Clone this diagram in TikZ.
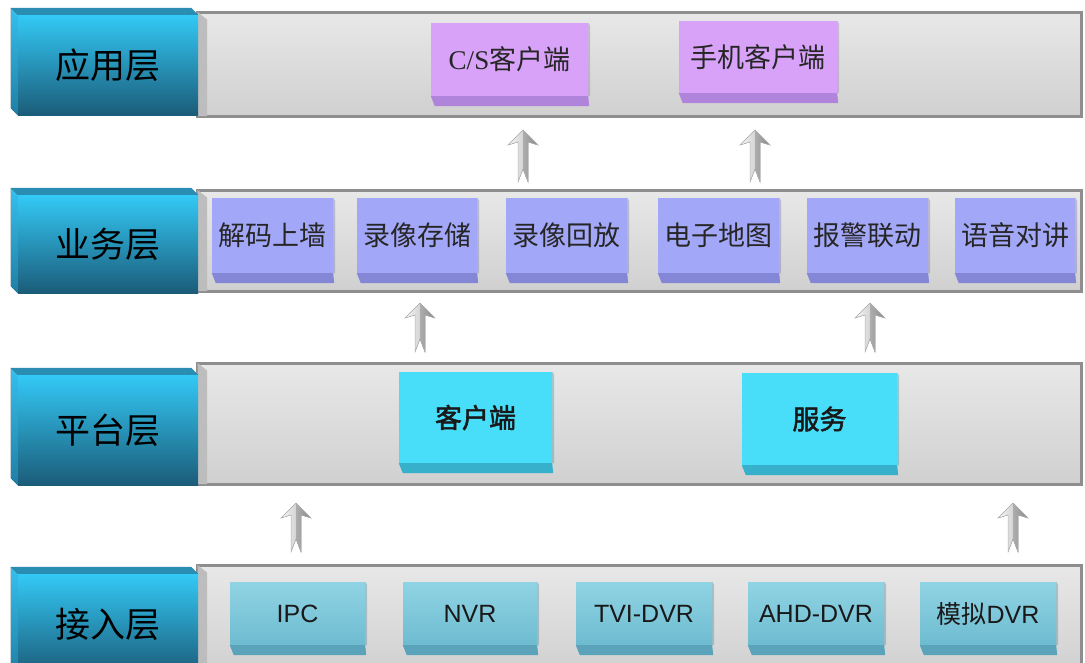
\documentclass[tikz,border=0pt]{standalone}
\usepackage{fontspec}
\setmainfont{Liberation Sans}
\newfontfamily\cjk{Noto Sans CJK SC}
\newfontfamily\cjkbold[FakeBold=2]{Noto Sans CJK SC}
\newfontfamily\lserif{Liberation Serif}
\usetikzlibrary{calc}

\definecolor{labtop}{HTML}{33C9F6}
\definecolor{labbot}{HTML}{1B5C79}
\definecolor{labface}{HTML}{2A8DB2}
\definecolor{labsidetop}{HTML}{36BFEC}
\definecolor{labsidebot}{HTML}{1F7FA6}
\definecolor{bartop}{HTML}{E8E8E8}
\definecolor{barbot}{HTML}{D0D0D0}
\definecolor{barline}{HTML}{8E8E8E}
\definecolor{barbevel}{HTML}{BDBDBD}
\definecolor{appfill}{HTML}{D7A2F8}
\definecolor{appstrip}{HTML}{B084DA}
\definecolor{busfill}{HTML}{A3A7F7}
\definecolor{busstrip}{HTML}{8387D6}
\definecolor{platfill}{HTML}{48DEFA}
\definecolor{platstrip}{HTML}{37B0CC}
\definecolor{acctop}{HTML}{90D4E4}
\definecolor{accbot}{HTML}{6EBBD0}
\definecolor{accstrip}{HTML}{5AA3BA}
\definecolor{arrlight}{HTML}{F7F7F7}
\definecolor{arrmid}{HTML}{D4D4D4}
\definecolor{arrdark}{HTML}{8A8A8A}

\tikzset{
  labelbox/.style={rectangle, inner sep=0pt, minimum width=180pt,
    top color=labtop, bottom color=labbot,
    font=\cjk\fontsize{35}{35}\selectfont, text=black},
  layerbar/.style={rectangle, inner sep=0pt, draw=barline, line width=3pt,
    top color=bartop, bottom color=barbot},
  appbox/.style={rectangle, inner sep=0pt, fill=appfill,
    font=\cjk\fontsize{27}{27}\selectfont, text=black!85},
  busbox/.style={rectangle, inner sep=0pt, fill=busfill,
    font=\cjk\fontsize{27}{27}\selectfont, text=black!85},
  platbox/.style={rectangle, inner sep=0pt, fill=platfill,
    font=\cjkbold\fontsize{27}{27}\selectfont, text=black!90},
  accbox/.style={rectangle, inner sep=0pt, top color=acctop, bottom color=accbot,
    font=\fontsize{25}{25}\selectfont, text=black!90},
  arrowleft/.style={left color=arrlight, right color=arrmid},
  arrowright/.style={left color=arrdark!70, right color=arrdark},
  arrowedge/.style={draw=gray!60, line width=0.5pt}
}

% front face node + darker bottom strip
\newcommand\ibox[8]{% name, style, strip colour, x1, x2, y1, y2(front bottom), text
  \node[#2, minimum width={(#5-#4)*1pt}, minimum height={(#7-#6)*1pt}]
    (#1) at ({(#4+#5)/2},{(#6+#7)/2}) {#8};
  \fill[#3] (#1.south west) -- (#1.south east) -- ($(#1.south east)+(1,10)$)
    -- ($(#1.south west)+(4,10)$) -- cycle;
  \fill[#3!80!black, opacity=0.35] (#1.north east) -- ($(#1.north east)+(2,3)$)
    -- ($(#1.south east)+(2,0)$) -- (#1.south east) -- cycle;
}

% layer label with 3D faces
\newcommand\layerlabel[5]{% name, y1, y2, text, dummy
  \node[labelbox, minimum height={(#3-#2)*1pt}] (#1) at (108,{(#2+#3)/2}) {#4};
  \fill[labface] ($(#1.north west)+(-7,-7)$) -- ($(#1.north east)+(-7,-7)$)
    -- (#1.north east) -- (#1.north west) -- cycle;
  \fill[top color=labsidetop, bottom color=labsidebot]
    ($(#1.north west)+(-7,-7)$) -- (#1.north west) -- (#1.south west)
    -- ($(#1.south west)+(-7,-7)$) -- cycle;
}

% layer bar
\newcommand\layerbar[3]{% name, y1, y2
  \node[layerbar, minimum width=884pt, minimum height={(#3-#2)*1pt}]
    (#1) at (639.5,{(#2+#3)/2}) {};
  \fill[barbevel] ($(#1.north west)+(1.5,1.5)$) -- ($(#1.north west)+(11,9)$)
    -- ($(#1.south west)+(11,-1.5)$) -- ($(#1.south west)+(1.5,-1.5)$) -- cycle;
}

% silver arrow between two named coordinates
\newcommand\silverarrow[2]{% tip, base
  \fill[arrowleft] (#1) -- ($(#1)+(-15,15)$) -- ($(#1)+(-5,12)$)
    -- ($(#2)+(-5,0)$) -- ($(#2)+(0,-13)$) -- cycle;
  \fill[arrowright] (#1) -- ($(#1)+(15,15)$) -- ($(#1)+(5,12)$)
    -- ($(#2)+(5,0)$) -- ($(#2)+(0,-13)$) -- cycle;
  \draw[arrowedge] (#1) -- ($(#1)+(-15,15)$) -- ($(#1)+(-5,12)$)
    -- ($(#2)+(-5,0)$) -- ($(#2)+(0,-13)$) -- ($(#2)+(5,0)$)
    -- ($(#1)+(5,12)$) -- ($(#1)+(15,15)$) -- cycle;
}

\begin{document}
\begin{tikzpicture}[x=1pt,y=-1pt]
\useasboundingbox[fill=white] (0,0) rectangle (1085,662);

% ---------- bars ----------
\layerbar{bar1}{12}{116}
\layerbar{bar2}{190}{291}
\layerbar{bar3}{363}{484}
\layerbar{bar4}{565}{675}

% ---------- layer labels ----------
\layerlabel{lab1}{15}{115}{应用层}{}
\layerlabel{lab2}{195}{293}{业务层}{}
\layerlabel{lab3}{375}{485}{平台层}{}
\layerlabel{lab4}{574}{675}{接入层}{}

% ---------- application layer ----------
\ibox{cs}{appbox}{appstrip}{431}{588}{23}{96}{{\lserif C/S}客户端}
\ibox{phone}{appbox}{appstrip}{679}{837}{21}{93}{手机客户端}

% ---------- business layer ----------
\ibox{b1}{busbox}{busstrip}{212}{333}{198}{273}{解码上墙}
\ibox{b2}{busbox}{busstrip}{357}{477}{198}{273}{录像存储}
\ibox{b3}{busbox}{busstrip}{506}{627}{198}{273}{录像回放}
\ibox{b4}{busbox}{busstrip}{658}{779}{198}{273}{电子地图}
\ibox{b5}{busbox}{busstrip}{807}{928}{198}{273}{报警联动}
\ibox{b6}{busbox}{busstrip}{955}{1075}{198}{273}{语音对讲}

% ---------- platform layer ----------
\ibox{client}{platbox}{platstrip}{399}{552}{372}{463}{\raisebox{2pt}{客户端}}
\ibox{server}{platbox}{platstrip}{742}{897}{373}{465}{\raisebox{2pt}{服务}}

% ---------- access layer ----------
\ibox{ipc}{accbox}{accstrip}{230}{365}{582}{645}{IPC}
\ibox{nvr}{accbox}{accstrip}{403}{537}{582}{645}{\raisebox{-3pt}{NVR}}
\ibox{tvi}{accbox}{accstrip}{576}{712}{582}{645}{TVI-DVR}
\ibox{ahd}{accbox}{accstrip}{748}{884}{582}{645}{AHD-DVR}
\ibox{analog}{accbox}{accstrip}{920}{1056}{582}{645}{{\cjk 模拟}DVR}

% ---------- arrows ----------
\coordinate (a1t) at (523,130); \coordinate (a1b) at (523,182);
\coordinate (a2t) at (755,130); \coordinate (a2b) at (755,182);
\coordinate (a3t) at (420,303); \coordinate (a3b) at (420,352);
\coordinate (a4t) at (870,303); \coordinate (a4b) at (870,352);
\coordinate (a5t) at (296,503); \coordinate (a5b) at (296,552);
\coordinate (a6t) at (1013,503); \coordinate (a6b) at (1013,552);
\silverarrow{a1t}{a1b}
\silverarrow{a2t}{a2b}
\silverarrow{a3t}{a3b}
\silverarrow{a4t}{a4b}
\silverarrow{a5t}{a5b}
\silverarrow{a6t}{a6b}
\end{tikzpicture}
\end{document}
